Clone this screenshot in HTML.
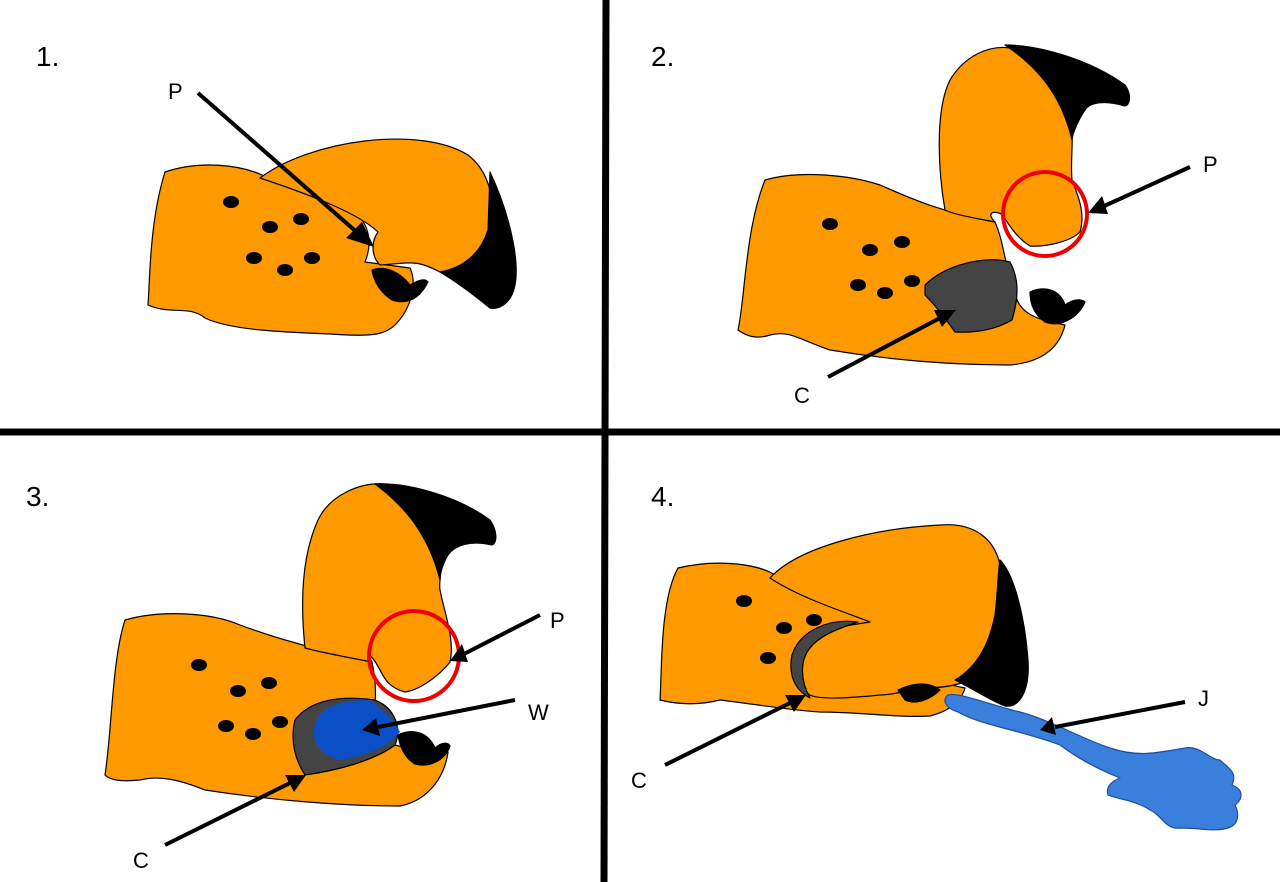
<!DOCTYPE html>
<html><head><meta charset="utf-8"><style>html,body{margin:0;padding:0;background:#fff}svg{display:block}</style></head><body>
<svg width="1280" height="882" viewBox="0 0 1280 882" xmlns="http://www.w3.org/2000/svg" font-family="Liberation Sans, sans-serif">
<defs><marker id="a" markerWidth="10" markerHeight="10" refX="7" refY="5" orient="auto" markerUnits="userSpaceOnUse"><path d="M0,0 L0,0" /></marker></defs>
<rect width="1280" height="882" fill="#fff"/>
<g stroke="#000" stroke-width="1.2" stroke-linejoin="round">
<!-- Panel 1 -->
<path d="M165,172 C200,160 240,165 262,175 C300,190 330,200 358,215 C370,228 372,245 365,262 L410,268 C418,285 410,310 395,325 C385,335 370,337 330,334 C280,332 230,330 205,318 C190,305 170,315 148,305 C150,275 150,220 165,172 Z" fill="#f90"/>
<path d="M260,178 C310,140 420,125 468,155 C490,172 495,200 493,235 L488,270 C470,268 455,270 440,272 C428,266 420,262 405,263 L380,265 C370,255 372,240 378,232 C360,215 320,198 260,178 Z" fill="#f90"/>
<path d="M490,172 C508,210 520,258 515,285 C512,302 500,310 490,308 C480,300 462,285 440,272 C462,268 480,255 488,230 Z" fill="#000"/>
<path d="M372,270 C385,265 400,272 410,285 C418,280 425,278 428,282 C420,298 408,305 392,300 C380,292 374,282 372,270 Z" fill="#000"/>
<!-- Panel 2 -->
<path d="M765,180 C800,170 850,175 880,185 C910,198 940,212 995,222 C1005,245 1005,270 1015,292 C1018,315 1040,320 1065,325 C1060,345 1045,362 1010,365 C950,365 890,360 830,350 C800,340 790,330 770,335 C755,340 745,335 738,330 C745,300 745,230 765,180 Z" fill="#f90"/>
<path d="M945,210 C938,170 935,110 950,80 C965,55 990,45 1010,48 C1040,50 1060,80 1070,110 C1075,130 1070,160 1072,180 C1080,200 1085,215 1080,232 C1070,242 1045,247 1030,246 C1020,240 1010,228 1003,215 C995,210 985,212 995,222 C975,218 955,215 945,210 Z" fill="#f90"/>
<path d="M1005,45 C1040,45 1090,60 1125,85 C1132,95 1130,105 1125,106 C1105,100 1090,102 1085,110 C1078,120 1072,135 1072,140 C1065,110 1050,75 1005,45 Z" fill="#000"/>
<path d="M925,285 C945,265 985,255 1010,262 C1020,280 1018,300 1012,320 C995,330 975,333 955,332 C945,318 935,305 925,295 Z" fill="#444"/>
<path d="M1030,292 C1045,285 1060,290 1065,305 C1072,300 1080,298 1085,302 C1078,318 1060,328 1045,322 C1035,315 1030,305 1030,292 Z" fill="#000"/>
<circle cx="1045" cy="214" r="42" fill="none" stroke="#e00" stroke-width="4"/>
<!-- Panel 3 -->
<path d="M125,620 C160,610 210,612 240,625 C280,640 320,650 372,662 C378,690 375,705 372,730 C380,745 400,748 448,752 C445,775 430,800 400,806 C340,806 270,800 205,790 C180,780 160,775 140,780 C120,782 110,780 105,775 C112,730 112,660 125,620 Z" fill="#f90"/>
<path d="M305,648 C300,600 302,555 318,520 C330,495 360,482 385,484 C410,488 430,515 440,540 C445,560 438,580 440,590 C445,615 455,640 450,662 C440,675 420,690 405,692 C390,688 385,680 380,670 C372,655 365,650 372,662 C340,656 320,652 305,648 Z" fill="#f90"/>
<path d="M375,484 C410,482 460,498 490,520 C498,532 497,543 492,545 C470,540 455,545 448,555 C442,565 440,575 440,580 C430,540 410,510 375,484 Z" fill="#000"/>
<path d="M295,720 C310,700 340,695 375,700 C395,708 402,728 395,745 C375,760 340,770 305,775 C295,760 290,740 295,720 Z" fill="#444"/>
<path d="M315,725 C320,705 345,700 370,700 C385,712 395,720 400,732 C390,745 370,755 340,760 C320,755 310,740 315,725 Z" fill="#0a4fc8" stroke="none"/>
<path d="M398,735 C412,728 428,732 435,748 C442,742 448,742 450,746 C445,760 430,768 415,764 C405,758 400,748 398,735 Z" fill="#000"/>
<circle cx="414" cy="656" r="45" fill="none" stroke="#e00" stroke-width="4"/>
<!-- Panel 4 -->
<path d="M678,568 C720,558 760,565 775,575 C800,590 830,605 870,612 C895,620 900,650 910,670 C930,680 950,685 965,688 C960,705 945,712 930,716 C900,718 860,712 820,712 C790,710 760,705 720,700 C700,705 680,705 660,700 C662,670 660,600 678,568 Z" fill="#f90"/>
<path d="M770,578 C800,545 880,528 940,525 C975,522 995,540 1000,565 C1005,600 998,640 990,668 C975,682 950,688 925,688 C905,690 895,695 880,695 C850,698 820,700 810,695 C795,685 795,655 810,640 C825,628 850,625 870,622 C845,612 800,598 770,578 Z" fill="#f90"/>
<path d="M1000,560 C1015,575 1025,620 1028,660 C1030,690 1020,708 1005,706 C990,700 975,690 955,680 C980,665 990,640 995,615 C998,590 998,570 1000,560 Z" fill="#000"/>
<path d="M858,622 C830,618 800,630 792,655 C788,675 795,690 810,698 C800,680 800,660 810,648 C820,635 840,628 858,622 Z" fill="#444"/>
<path d="M898,690 C915,682 930,682 940,690 C930,700 915,705 905,700 Z" fill="#000"/>
<path d="M948,695 C960,692 990,705 1020,712 C1050,720 1080,738 1110,748 C1140,758 1160,752 1185,748 C1200,745 1210,760 1220,760 C1228,768 1238,772 1232,785 C1245,790 1242,800 1235,805 C1240,815 1238,825 1228,828 C1215,832 1200,828 1180,828 C1165,830 1162,815 1150,810 C1135,800 1120,800 1108,795 C1105,785 1115,780 1120,778 C1100,770 1080,760 1060,745 C1020,730 980,725 958,712 C945,708 942,700 948,695 Z" fill="#3a7fdb" stroke="#1a4fa0"/>
</g>
<!-- dots -->
<g fill="#000">
<ellipse cx="231" cy="202" rx="8" ry="6"/><ellipse cx="270" cy="227" rx="8" ry="6"/><ellipse cx="301" cy="219" rx="8" ry="6"/><ellipse cx="254" cy="258" rx="8" ry="6"/><ellipse cx="285" cy="270" rx="8" ry="6"/><ellipse cx="312" cy="258" rx="8" ry="6"/>
<ellipse cx="830" cy="224" rx="8" ry="6"/><ellipse cx="870" cy="250" rx="8" ry="6"/><ellipse cx="902" cy="242" rx="8" ry="6"/><ellipse cx="858" cy="285" rx="8" ry="6"/><ellipse cx="885" cy="293" rx="8" ry="6"/><ellipse cx="912" cy="281" rx="8" ry="6"/>
<ellipse cx="199" cy="665" rx="8" ry="6"/><ellipse cx="238" cy="691" rx="8" ry="6"/><ellipse cx="269" cy="683" rx="8" ry="6"/><ellipse cx="226" cy="726" rx="8" ry="6"/><ellipse cx="253" cy="734" rx="8" ry="6"/><ellipse cx="280" cy="722" rx="8" ry="6"/>
<ellipse cx="744" cy="601" rx="8" ry="6"/><ellipse cx="784" cy="628" rx="8" ry="6"/><ellipse cx="814" cy="620" rx="8" ry="6"/><ellipse cx="768" cy="658" rx="8" ry="6"/>
</g>
<!-- dividers -->
<line x1="606" y1="0" x2="604" y2="882" stroke="#000" stroke-width="7"/>
<line x1="0" y1="432" x2="1280" y2="432" stroke="#000" stroke-width="7"/>
<!-- arrows -->
<g stroke="#000" stroke-width="4">
<line x1="198" y1="93" x2="360" y2="235"/>
<line x1="1190" y1="167" x2="1102" y2="207"/>
<line x1="828" y1="377" x2="942" y2="317"/>
<line x1="540" y1="615" x2="462" y2="655"/>
<line x1="515" y1="700" x2="378" y2="727"/>
<line x1="165" y1="845" x2="292" y2="782"/>
<line x1="665" y1="765" x2="792" y2="702"/>
<line x1="1185" y1="702" x2="1055" y2="727"/>
</g>
<g fill="#000">
<polygon points="374,247 346,238 362,222"/>
<polygon points="1088,213 1102,196 1108,214"/>
<polygon points="956,310 942,327 934,310"/>
<polygon points="450,661 462,644 468,662"/>
<polygon points="362,730 376,718 380,736"/>
<polygon points="306,775 294,792 285,775"/>
<polygon points="806,695 794,712 785,695"/>
<polygon points="1040,730 1052,717 1056,735"/>
</g>
<g font-size="28" fill="#000">
<text x="36" y="66">1.</text><text x="651" y="66">2.</text><text x="26" y="506">3.</text><text x="651" y="506">4.</text>
</g>
<g font-size="22" fill="#000">
<text x="168" y="99">P</text><text x="1203" y="172">P</text><text x="794" y="403">C</text>
<text x="550" y="628">P</text><text x="528" y="720">W</text><text x="133" y="868">C</text><text x="631" y="788">C</text><text x="1198" y="706">J</text>
</g>
</svg>
</body></html>
